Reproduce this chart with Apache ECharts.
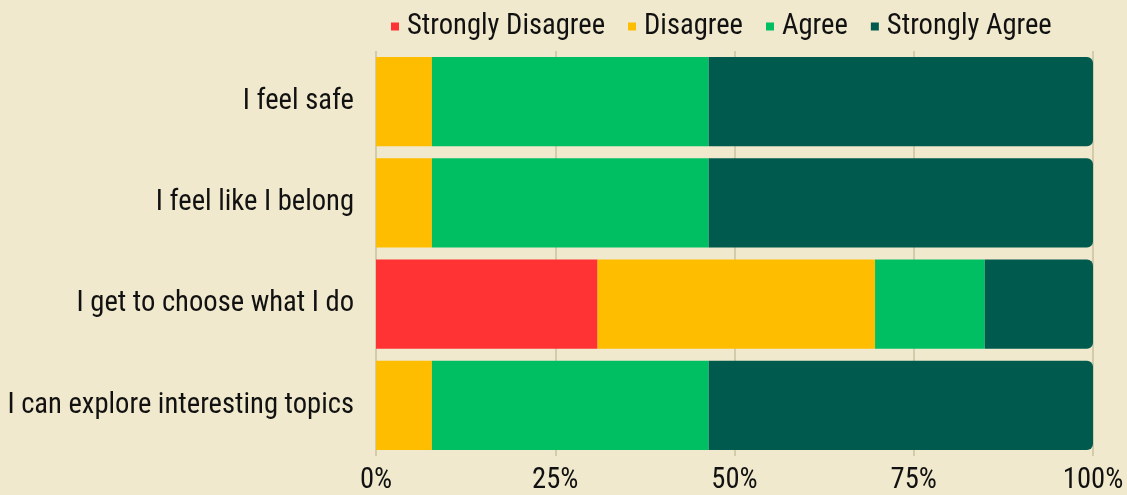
<!DOCTYPE html>
<html><head><meta charset="utf-8">
<script src="https://cdn.jsdelivr.net/npm/echarts@6/dist/echarts.min.js"></script>
<style>html,body{margin:0;padding:0;background:#F0E9CD;}#c{width:1127px;height:495px;}</style>
</head><body><div id="c"></div>
<script>
const categories = ["I feel safe", "I feel like I belong", "I get to choose what I do", "I can explore interesting topics"];
const seriesNames = ["Strongly Disagree", "Disagree", "Agree", "Strongly Agree"];
const stronglyDisagree = [0, 0, 30.9, 0];
const disagree = [7.8, 7.8, 38.7, 7.8];
const agree = [38.6, 38.6, 15.3, 38.6];
const stronglyAgree = [53.6, 53.6, 15.1, 53.6];
const xTicks = ["0%", "25%", "50%", "75%", "100%"];
const colors = ["#FF3333", "#FFBD00", "#00BF63", "#005B4E"];
const FONT = '"Roboto Condensed", "Liberation Sans Narrow", "DejaVu Sans Condensed", Roboto, sans-serif';
const values = [stronglyDisagree, disagree, agree, stronglyAgree];
const chart = echarts.init(document.getElementById('c'), null, {renderer: 'canvas'});
chart.setOption({
  backgroundColor: '#F0E9CD',
  animation: false,
  textStyle: {fontFamily: FONT},
  legend: {
    top: 7, left: 386,
    data: seriesNames,
    icon: 'rect', itemWidth: 8, itemHeight: 8, itemGap: 23,
    textStyle: {fontFamily: FONT, fontSize: 28.6, color: '#111', padding: [0, 0, 0, 3]}
  },
  grid: {left: 376, right: 34, top: 51, bottom: 34, containLabel: false},
  xAxis: {
    type: 'value', min: 0, max: 100, interval: 25,
    axisLine: {show: false}, axisTick: {show: false},
    splitLine: {show: true, lineStyle: {color: '#D3CBAA', width: 2}},
    axisLabel: {fontFamily: FONT, fontSize: 28.6, color: '#111', margin: 10,
      formatter: v => xTicks[v / 25]}
  },
  yAxis: {
    type: 'category', data: categories, inverse: true,
    axisLine: {show: false}, axisTick: {show: false},
    axisLabel: {fontFamily: FONT, fontSize: 28.6, color: '#111', margin: 22}
  },
  series: seriesNames.map((n, i) => ({
    name: n, type: 'bar', stack: 'total', data: values[i],
    barCategoryGap: '12%',
    itemStyle: {color: colors[i], borderRadius: i === 3 ? [0, 6, 6, 0] : 0}
  }))
});
</script></body></html>
